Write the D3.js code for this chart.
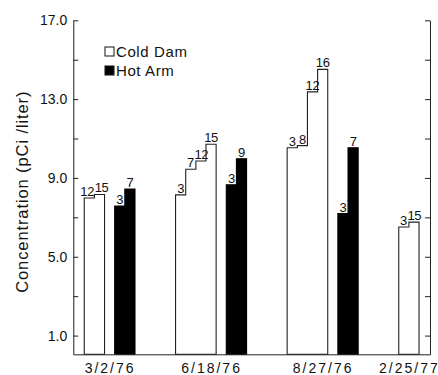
<!DOCTYPE html>
<html>
<head>
<meta charset="utf-8">
<script src="https://cdn.jsdelivr.net/npm/d3@7"></script>
<style>
  body { margin: 0; background: #fff; }
  svg { display: block; }
  text { font-family: "Liberation Sans", Arial, sans-serif; fill: #111; }
</style>
</head>
<body>
<div id="chart"></div>
<script>
// sampling dates (one group each)
const dates = ['3/2/76', '6/18/76', '8/27/76', '2/25/77'];
// day labels above each step, and concentration (pCi/liter) per step
const coldDays = [[12, 15], [3, 7, 12, 15], [3, 8, 12, 16], [3, 15]];
const coldValues = [[7.98, 8.16], [8.14, 9.44, 9.86, 10.71], [10.53, 10.64, 13.37, 14.51], [6.51, 6.76]];
const hotDays = [[3, 7], [3, 9], [3, 7], []];
const hotValues = [[7.57, 8.44], [8.65, 9.97], [7.19, 10.53], []];
const seriesNames = ['Cold Dam', 'Hot Arm'];
const yTicks = [1, 3, 5, 7, 9, 11, 13, 15, 17];
const yTickLabels = ['1.0', '', '5.0', '', '9.0', '', '13.0', '', '17.0'];

const width = 438, height = 375;
const margin = { top: 20.3, right: 8, bottom: 20.7, left: 73.3 };

// lay groups out in "slots" of equal step width
const GAP_IN = 1, GAP_OUT = 4;
const groups = [];
let pos = 0;
dates.forEach((d, i) => {
  const g = { date: d, start: pos };
  g.cold = coldValues[i].map((v, j) => ({ v, day: coldDays[i][j], s: pos + j }));
  pos += coldValues[i].length;
  if (hotValues[i].length) {
    pos += GAP_IN;
    g.hot = hotValues[i].map((v, j) => ({ v, day: hotDays[i][j], s: pos + j }));
    pos += hotValues[i].length;
  } else {
    g.hot = [];
  }
  g.center = (g.start + pos) / 2;
  groups.push(g);
  pos += GAP_OUT;
});
const totalSlots = pos - GAP_OUT;

const x = d3.scaleLinear()
  .domain([-1.08, totalSlots + 1.08])
  .range([margin.left, width - margin.right]);

const y = d3.scaleLinear()
  .domain([0.05, 17])
  .range([height - margin.bottom, margin.top]);

const svg = d3.select('#chart')
  .append('svg')
  .attr('width', width)
  .attr('height', height);

const area = d3.area()
  .curve(d3.curveStepAfter)
  .x(d => x(d.s))
  .y0(y(0.05))
  .y1(d => y(d.v));

// append a closing point so the last step gets its full width
const stepData = steps => steps.concat([{ s: steps[steps.length - 1].s + 1, v: steps[steps.length - 1].v }]);

const bars = svg.append('g');
groups.forEach(g => {
  bars.append('path')
    .attr('d', area(stepData(g.cold)))
    .attr('fill', '#fff')
    .attr('stroke', '#222')
    .attr('stroke-width', 1.1);
  if (g.hot.length) {
    bars.append('path')
      .attr('d', area(stepData(g.hot)))
      .attr('fill', '#000')
      .attr('stroke', '#000')
      .attr('stroke-width', 1.1);
  }
});

// day labels over each step
const labelGroup = svg.append('g');
groups.forEach(g => {
  [g.cold, g.hot].forEach(steps => {
    if (!steps.length) return;
    const labels = labelGroup.selectAll(null)
      .data(steps)
      .join('text')
      .attr('x', d => x(d.s + 0.5))
      .attr('y', d => y(d.v) - 2)
      .attr('text-anchor', 'middle')
      .attr('font-size', 13)
      .attr('letter-spacing', -0.3)
      .text(d => d.day);
    // nudge neighbouring labels apart when they sit at about the same height
    const nodes = labels.nodes();
    for (let k = 0; k < nodes.length - 1; k++) {
      const a = nodes[k].getBBox(), b = nodes[k + 1].getBBox();
      const overlap = a.x + a.width - b.x;
      if (overlap > -0.5 && Math.abs(a.y - b.y) < a.height) {
        const shift = (overlap + 0.5) / 2;
        nodes[k].setAttribute('x', +nodes[k].getAttribute('x') - shift);
        nodes[k + 1].setAttribute('x', +nodes[k + 1].getAttribute('x') + shift);
      }
    }
  });
});

// left axis, ticks pointing inward
svg.append('g')
  .attr('transform', `translate(${margin.left},0)`)
  .call(d3.axisLeft(y)
    .tickValues(yTicks)
    .tickSize(-5)
    .tickSizeOuter(0)
    .tickPadding(6)
    .tickFormat((d, i) => yTickLabels[i]))
  .call(g => g.selectAll('text').attr('font-size', 14).attr('font-family', null))
  .call(g => g.selectAll('line,path').attr('stroke', '#222'));

// right axis, no labels
svg.append('g')
  .attr('transform', `translate(${width - margin.right},0)`)
  .call(d3.axisRight(y)
    .tickValues(yTicks)
    .tickSize(-5)
    .tickSizeOuter(0)
    .tickFormat(''))
  .call(g => g.selectAll('line,path').attr('stroke', '#222'));

// bottom axis with date labels under each group
svg.append('g')
  .attr('transform', `translate(0,${y(0.05)})`)
  .call(d3.axisBottom(x)
    .tickValues(groups.map(g => g.center))
    .tickSize(0)
    .tickSizeOuter(0)
    .tickPadding(9)
    .tickFormat((d, i) => dates[i]))
  .call(g => g.selectAll('text').attr('font-size', 14).attr('font-family', null).attr('letter-spacing', 2))
  .call(g => g.select('path').attr('stroke', '#222'));

// y title
svg.append('text')
  .attr('transform', `translate(28,191.7) rotate(-90)`)
  .attr('text-anchor', 'middle')
  .attr('font-size', 16.5)
  .attr('letter-spacing', 0.9)
  .text('Concentration (pCi /liter)');

// legend
const legend = svg.append('g').attr('transform', 'translate(105,47)');
seriesNames.forEach((name, i) => {
  const row = legend.append('g').attr('transform', `translate(0,${i * 19})`);
  row.append('rect')
    .attr('width', 9).attr('height', 9)
    .attr('fill', i === 0 ? '#fff' : '#000')
    .attr('stroke', '#111');
  row.append('text')
    .attr('x', 11).attr('y', 9.5)
    .attr('font-size', 15)
    .attr('letter-spacing', 0.6)
    .text(name);
});
</script>
</body>
</html>
